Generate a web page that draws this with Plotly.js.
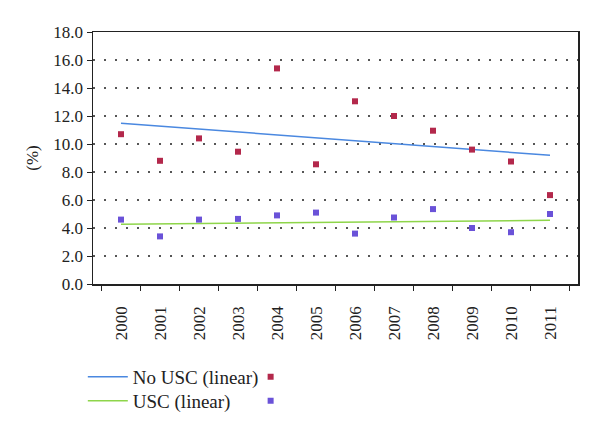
<!DOCTYPE html>
<html>
<head>
<meta charset="utf-8">
<script src="https://cdn.plot.ly/plotly-3.0.1.min.js"></script>
<style>html,body{margin:0;padding:0;background:#fff;}#chart{width:600px;height:433px;}</style>
</head>
<body>
<div id="chart"></div>
<script>
const years = ['2000','2001','2002','2003','2004','2005','2006','2007','2008','2009','2010','2011'];
const noUSC = [10.7, 8.8, 10.4, 9.45, 15.4, 8.55, 13.05, 12.0, 10.95, 9.6, 8.75, 6.35];
const usc   = [4.6, 3.4, 4.6, 4.65, 4.9, 5.1, 3.6, 4.75, 5.35, 4.0, 3.7, 5.0];
const trendYears = ['2000','2011'];
const noUSCTrend = [11.48, 9.19];
const uscTrend   = [4.26, 4.55];
const yTicks = [0,2,4,6,8,10,12,14,16,18];

const serif = 'Liberation Serif, Times New Roman, serif';
const red = '#b3284b';
const purple = '#6a52d8';

const data = [
  {x: trendYears, y: noUSCTrend, type: 'scatter', mode: 'lines', name: 'No USC (linear)',
   line: {color: '#4a88e0', width: 1.5}, legend: 'legend'},
  {x: trendYears, y: uscTrend, type: 'scatter', mode: 'lines', name: 'USC (linear)',
   line: {color: '#8ed54a', width: 1.5}, legend: 'legend2'},
  {x: years, y: noUSC, type: 'scatter', mode: 'markers', name: ' ',
   marker: {symbol: 'square', size: 6, color: red}, legend: 'legend3'},
  {x: years, y: usc, type: 'scatter', mode: 'markers', name: ' ',
   marker: {symbol: 'square', size: 6, color: purple}, legend: 'legend4'}
];

function leg(x, y, iw) {
  return {x: x, xanchor: 'left', y: y, yanchor: 'middle', orientation: 'v',
    bgcolor: 'rgba(0,0,0,0)', itemwidth: iw, tracegroupgap: 0,
    font: {family: serif, size: 19, color: '#222'}};
}

const layout = {
  width: 600, height: 433,
  margin: {l: 93, r: 22, t: 32, b: 149},
  paper_bgcolor: '#fff', plot_bgcolor: '#fff',
  font: {family: serif, size: 17, color: '#222'},
  showlegend: true,
  xaxis: {
    type: 'category', categoryorder: 'array', categoryarray: years,
    tickangle: -90, ticks: 'outside', tickson: 'boundaries',
    ticklen: 5, tickcolor: '#222', showline: true, linecolor: '#222', linewidth: 1.5,
    mirror: true, showgrid: false, tickfont: {family: serif, size: 17, color: '#222'},
    ticklabelstandoff: 14
  },
  yaxis: {
    range: [0, 18], tickvals: yTicks, tickformat: '.1f', ticks: 'outside', ticklen: 5,
    tickcolor: '#222', showline: true, linecolor: '#222', linewidth: 1.5, mirror: true,
    showgrid: true, gridcolor: '#555', gridwidth: 1.5, griddash: '2px,9px', zeroline: false,
    tickfont: {family: serif, size: 17, color: '#222'},
    title: {text: '(%)', font: {family: serif, size: 17, color: '#222'}, standoff: 10}
  },
  legend: leg(-0.021, -0.369, 40),
  legend2: leg(-0.021, -0.464, 40),
  legend3: leg(0.325, -0.369, 30),
  legend4: leg(0.325, -0.464, 30)
};

Plotly.newPlot('chart', data, layout, {displayModeBar: false, staticPlot: true});
</script>
</body>
</html>
